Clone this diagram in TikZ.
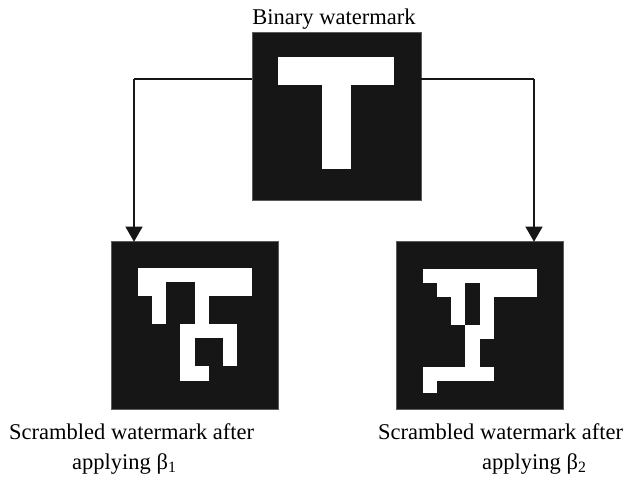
\documentclass[tikz,border=0pt]{standalone}
\usepackage{fontspec}
\setmainfont{Liberation Serif}
\usetikzlibrary{arrows.meta}
\definecolor{sqdark}{RGB}{22,22,22}
\begin{document}
\begin{tikzpicture}[x=1pt,y=-1pt,
  sqbox/.style={fill=sqdark,draw=sqdark!70!white,line width=0.6pt,inner sep=0pt,outer sep=0pt},
  pix/.style={fill=white},
  conn/.style={line width=1.2pt,draw=sqdark},
  arr/.style={conn,-{Triangle[width=17pt,length=15pt]}},
  lbl/.style={inner sep=0pt,font=\fontsize{22.5}{27}\selectfont}]
\useasboundingbox (0,0) rectangle (628,479);
% connectors
\coordinate (jl) at (134,79);
\coordinate (jr) at (534,79);
% squares
\node[sqbox,minimum width=169pt,minimum height=168pt] (top) at (336.5,116) {};
\node[sqbox,minimum width=166.3pt,minimum height=167.6pt] (bl) at (194.85,325.5) {};
\node[sqbox,minimum width=166.6pt,minimum height=167.6pt] (br) at (480,325.5) {};
\draw[conn] (top.west |- jl) -- (jl);
\draw[conn] (top.east |- jr) -- (jr);
\draw[arr] (jl) -- (jl |- bl.north);
\draw[arr] (jr) -- (jr |- br.north);
% T watermark
\begin{scope}[shift={(278,57)},x=14.5pt,y=-14pt]
  \fill[pix] (0,0) rectangle (8,2);
  \fill[pix] (3,2) rectangle (5,8);
\end{scope}
% scrambled 1
\begin{scope}[shift={(137.7,267.7)},x=14.25pt,y=-14.1pt]
  \fill[pix] (0,0) rectangle (8,1);
  \fill[pix] (0,1) rectangle (2,2);
  \fill[pix] (4,1) rectangle (8,2);
  \fill[pix] (1,2) rectangle (2,4);
  \fill[pix] (4,2) rectangle (5,4);
  \fill[pix] (3,4) rectangle (7,5);
  \fill[pix] (3,5) rectangle (4,8);
  \fill[pix] (6,5) rectangle (7,7);
  \fill[pix] (4,7) rectangle (5,8);
\end{scope}
% scrambled 2
\begin{scope}[shift={(422.7,268.5)},x=14.25pt,y=-14.1pt]
  \fill[pix] (0,0) rectangle (8,1);
  \fill[pix] (1,1) rectangle (3,2);
  \fill[pix] (4,1) rectangle (8,2);
  \fill[pix] (2,2) rectangle (3,4);
  \fill[pix] (4,2) rectangle (5,5);
  \fill[pix] (3,4) rectangle (4,7);
  \fill[pix] (0,7) rectangle (5,8);
  \fill[pix] (0,8) rectangle (1,8.85);
\end{scope}
% labels
\node[lbl,anchor=base] (tlabel) at (334,24) {Binary watermark};
\node[lbl,anchor=base west] (l1a) at (9,439) {Scrambled watermark after};
\node[lbl,anchor=base west] (l1b) at (72,469) {applying β\textsubscript{1}};
\node[lbl,anchor=base west] (l2a) at (378,439) {Scrambled watermark after};
\node[lbl,anchor=base west] (l2b) at (482,469) {applying β\textsubscript{2}};
\end{tikzpicture}
\end{document}
